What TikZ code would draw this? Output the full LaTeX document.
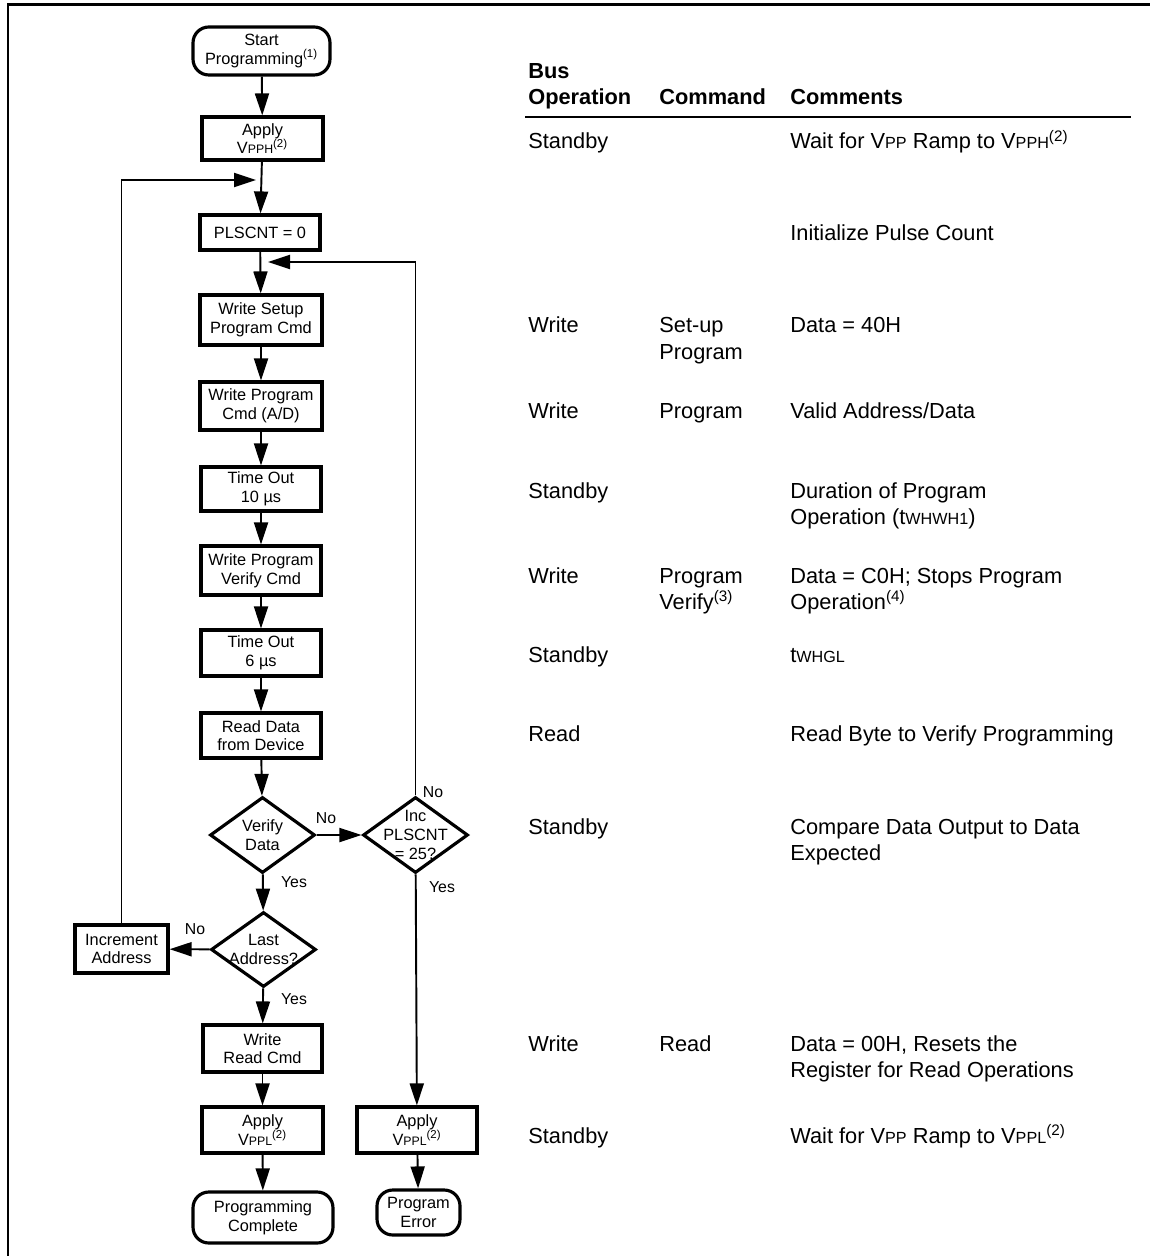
\documentclass[tikz,border=0pt]{standalone}
\usepackage{fontspec}
\setmainfont{Liberation Sans}
\usetikzlibrary{shapes.geometric,arrows.meta}

\newcommand{\boxfont}{\fontsize{9.3}{10.6}\selectfont}
\newcommand{\tabfont}{\fontsize{12.4}{14.8}\selectfont}
\newcommand{\bsc}[1]{{\fontsize{7}{8}\selectfont #1}}
\newcommand{\tsc}[1]{{\fontsize{9.2}{10}\selectfont #1}}

\tikzset{
  stepbox/.style={draw, line width=1.8pt, minimum width=2.4cm, minimum height=0.9cm, inner sep=0pt, align=center, font=\boxfont},
  endbox/.style={stepbox, rounded corners=9pt},
  testbox/.style={draw, diamond, line width=1.8pt, minimum width=2.1cm, minimum height=1.52cm, inner sep=0pt},
  flow/.style={line width=1.1pt, -{Triangle[length=4.4mm,width=2.8mm]}},
  tag/.style={font=\fontsize{9}{10}\selectfont, inner sep=1pt},
  cell/.style={anchor=base west, inner sep=0pt, font=\tabfont},
}

\begin{document}
\begin{tikzpicture}[x=0.02cm,y=-0.02cm]
    \useasboundingbox (0,0) rectangle (1150,1256);
    % frame
    \draw[line width=1.7pt] (8,1256) -- (8,5) -- (1150,5);

    % flowchart
    \node[endbox, minimum width=2.74cm, minimum height=0.96cm] (start) at (261.5,51) {Start\\Programming\textsuperscript{(1)}};
    \node[stepbox, minimum width=2.42cm, minimum height=0.86cm] (applyh) at (262.5,138.5) {Apply\\V\bsc{PPH}\textsuperscript{(2)}};
    \node[stepbox, minimum height=0.7cm] (plscnt) at (260,232.5) {PLSCNT = 0};
    \node[stepbox, minimum width=2.44cm, minimum height=1cm] (wsetup) at (261,320) {Write Setup\\Program Cmd};
    \node[stepbox, minimum width=2.44cm, minimum height=0.96cm] (wprog) at (261,406) {Write Program\\Cmd (A/D)};
    \node[stepbox, minimum height=0.88cm] (tout10) at (261,489) {Time Out\\10 µs};
    \node[stepbox, minimum height=0.98cm] (wverify) at (261,570.5) {Write Program\\Verify Cmd};
    \node[stepbox, minimum height=0.92cm] (tout6) at (261,653) {Time Out\\6 µs};
    \node[stepbox] (readdata) at (261,735.5) {Read Data\\from Device};
    \node[testbox, label={[align=center,font=\boxfont]center:Verify\\Data}] (verify) at (262.5,835) {};
    \node[testbox, label={[align=center,font=\boxfont]center:Inc\\PLSCNT\\= 25?}] (inc) at (415.5,835) {};
    \node[testbox, minimum height=1.5cm, label={[align=center,font=\boxfont]center:Last\\Address?}] (last) at (263.5,949.5) {};
    \node[stepbox, minimum width=1.86cm, minimum height=0.96cm] (incaddr) at (121.5,949) {Increment\\Address};
    \node[stepbox, minimum width=2.38cm, minimum height=0.94cm] (wread) at (262.5,1048.5) {Write\\Read Cmd};
    \node[stepbox, minimum width=2.42cm, minimum height=0.92cm] (applyl) at (262.5,1130) {Apply\\V\bsc{PPL}\textsuperscript{(2)}};
    \node[stepbox, minimum height=0.92cm] (applyl2) at (417,1130) {Apply\\V\bsc{PPL}\textsuperscript{(2)}};
    \node[endbox, minimum width=2.8cm, minimum height=1.02cm] (done) at (263,1217.5) {Programming\\Complete};
    \node[endbox, minimum width=1.66cm, minimum height=0.9cm] (err) at (418.5,1212.5) {Program\\Error};

    \coordinate (joinA) at (256,180);
    \coordinate (joinB) at (268,262);

    \draw[flow] (start) -- (applyh);
    \draw[flow] (applyh) -- (plscnt);
    \draw[flow] (plscnt) -- (wsetup);
    \draw[flow] (wsetup) -- (wprog);
    \draw[flow] (wprog) -- (tout10);
    \draw[flow] (tout10) -- (wverify);
    \draw[flow] (wverify) -- (tout6);
    \draw[flow] (tout6) -- (readdata);
    \draw[flow] (readdata) -- (verify);
    \draw[flow] (verify) -- (inc);
    \draw[flow] (verify) -- (last);
    \draw[flow] (last) -- (incaddr);
    \draw[flow] (last) -- (wread);
    \draw[flow] (wread) -- (applyl);
    \draw[flow] (applyl) -- (done);
    \draw[flow] (inc) -- (applyl2);
    \draw[flow] (applyl2) -- (err);
    \draw[flow] (incaddr.north) |- (joinA);
    \draw[flow] (inc.north) |- (joinB);

    \node[tag] (noA) at (326,818) {No};
    \node[tag] (noB) at (433,792) {No};
    \node[tag] (yesA) at (294,882) {Yes};
    \node[tag] (yesB) at (442,887) {Yes};
    \node[tag] (noC) at (195,929) {No};
    \node[tag] (yesC) at (294,999) {Yes};

    % table
    \node[cell, font=\tabfont\bfseries] (hbus) at (528,79) {Bus};
    \node[cell, font=\tabfont\bfseries] (hop) at (528,105) {Operation};
    \node[cell, font=\tabfont\bfseries] (hcmd) at (659,105) {Command};
    \node[cell, font=\tabfont\bfseries] (hcom) at (790,105) {Comments};
    \draw[line width=1.6pt] (525,117) -- (1131,117);

    \node[cell] (op1) at (528,149) {Standby};
    \node[cell] (cm1) at (790,149) {Wait for V\tsc{PP} Ramp to V\tsc{PPH}\textsuperscript{(2)}};
    \node[cell] (cm2) at (790,241) {Initialize Pulse Count};
    \node[cell] (op3) at (528,333) {Write};
    \node[cell] (cd3a) at (659,333) {Set-up};
    \node[cell] (cd3b) at (659,359) {Program};
    \node[cell] (cm3) at (790,333) {Data = 40H};
    \node[cell] (op4) at (528,418) {Write};
    \node[cell] (cd4) at (659,418) {Program};
    \node[cell] (cm4) at (790,418) {Valid Address/Data};
    \node[cell] (op5) at (528,498) {Standby};
    \node[cell] (cm5a) at (790,498) {Duration of Program};
    \node[cell] (cm5b) at (790,524) {Operation (t\tsc{WHWH1})};
    \node[cell] (op6) at (528,583) {Write};
    \node[cell] (cd6a) at (659,583) {Program};
    \node[cell] (cd6b) at (659,609) {Verify\textsuperscript{(3)}};
    \node[cell] (cm6a) at (790,583) {Data = C0H; Stops Program};
    \node[cell] (cm6b) at (790,609) {Operation\textsuperscript{(4)}};
    \node[cell] (op7) at (528,662) {Standby};
    \node[cell] (cm7) at (790,662) {t\tsc{WHGL}};
    \node[cell] (op8) at (528,741) {Read};
    \node[cell] (cm8) at (790,741) {Read Byte to Verify Programming};
    \node[cell] (op9) at (528,834) {Standby};
    \node[cell] (cm9a) at (790,834) {Compare Data Output to Data};
    \node[cell] (cm9b) at (790,860) {Expected};
    \node[cell] (op10) at (528,1051) {Write};
    \node[cell] (cd10) at (659,1051) {Read};
    \node[cell] (cm10a) at (790,1051) {Data = 00H, Resets the};
    \node[cell] (cm10b) at (790,1077) {Register for Read Operations};
    \node[cell] (op11) at (528,1143) {Standby};
    \node[cell] (cm11) at (790,1143) {Wait for V\tsc{PP} Ramp to V\tsc{PPL}\textsuperscript{(2)}};
\end{tikzpicture}
\end{document}
